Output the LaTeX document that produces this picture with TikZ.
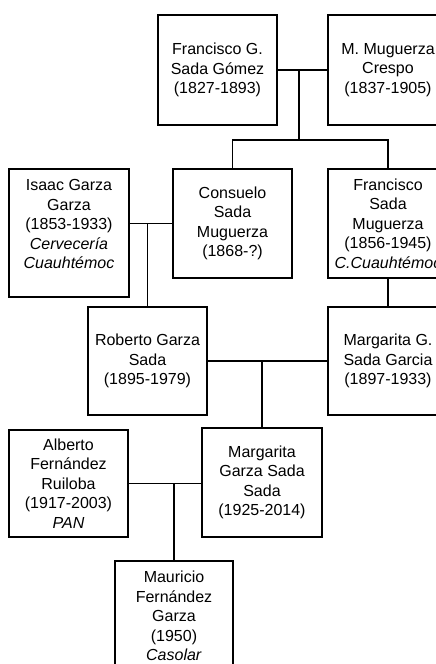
\documentclass[tikz,border=0pt]{standalone}
\usepackage{fontspec}
\setmainfont{Liberation Sans}
\begin{document}
\begin{tikzpicture}[x=1pt,y=-1pt,
  person/.style={draw=black,line width=1.6pt,rectangle,inner sep=0pt,align=center,
    font=\fontsize{16}{19.5}\selectfont},
  plain/.style={inner sep=0pt,align=center,font=\fontsize{16}{19.5}\selectfont},
  link/.style={draw=black,line width=1.4pt}]
\useasboundingbox (0,0) rectangle (436,664);
\clip (0,0) rectangle (436,664);
% generation 1
\node[person,minimum width=119pt,minimum height=110pt] (fg) at (217.5,70) {Francisco G.\\Sada Gómez\\(1827-1893)};
\node[person,minimum width=120pt,minimum height=110pt] (mm) at (388,70) {M. Muguerza\\Crespo\\(1837-1905)};
% generation 2
\node[person,minimum width=120pt,minimum height=128pt] (isaac) at (69,233) {};
\node[plain] (isaacT) at (69,224) {Isaac Garza\\Garza\\(1853-1933)\\\textit{Cervecería}\\\textit{Cuauhtémoc}};
\node[person,minimum width=119pt,minimum height=109pt] (cons) at (232.5,223.5) {Consuelo\\Sada\\Muguerza\\(1868-?)};
\node[person,minimum width=120pt,minimum height=109pt] (fsada) at (388,223.5) {Francisco\\Sada\\Muguerza\\(1856-1945)\\\textit{C.Cuauhtémoc}};
% generation 3
\node[person,minimum width=119pt,minimum height=108pt] (rob) at (147.5,361) {Roberto Garza\\Sada\\(1895-1979)};
\node[person,minimum width=120pt,minimum height=108pt] (mgs) at (388,361) {Margarita G.\\Sada Garcia\\(1897-1933)};
% generation 4
\node[person,minimum width=119pt,minimum height=107pt] (alb) at (68.5,483.5) {Alberto\\Fernández\\Ruiloba\\(1917-2003)\\\textit{PAN}};
\node[person,minimum width=120pt,minimum height=109pt] (mgz) at (262,482.5) {Margarita\\Garza Sada\\Sada\\(1925-2014)};
% generation 5
\node[person,minimum width=118pt,minimum height=110pt] (mau) at (174,616) {Mauricio\\Fernández\\Garza\\(1950)\\\textit{Casolar}};
% connectors
\draw[link] (fg.east) -- (mm.west);
\coordinate (j1) at (299,70);
\coordinate (b1) at (299,140);
\draw[link] (j1) -- (b1);
\draw[link] (cons.north) |- (b1) -| (fsada.north);
\draw[link] (isaac.east |- cons.west) -- (cons.west);
\coordinate (j2) at (rob.north |- cons.west);
\draw[link] (j2) -- (rob.north);
\draw[link] (fsada.south) -- (mgs.north);
\draw[link] (rob.east) -- (mgs.west);
\coordinate (j3) at (mgz.north |- rob.east);
\draw[link] (j3) -- (mgz.north);
\draw[link] (alb.east) -- (alb.east -| mgz.west);
\coordinate (j4) at (mau.north |- alb.east);
\draw[link] (j4) -- (mau.north);
\end{tikzpicture}
\end{document}
